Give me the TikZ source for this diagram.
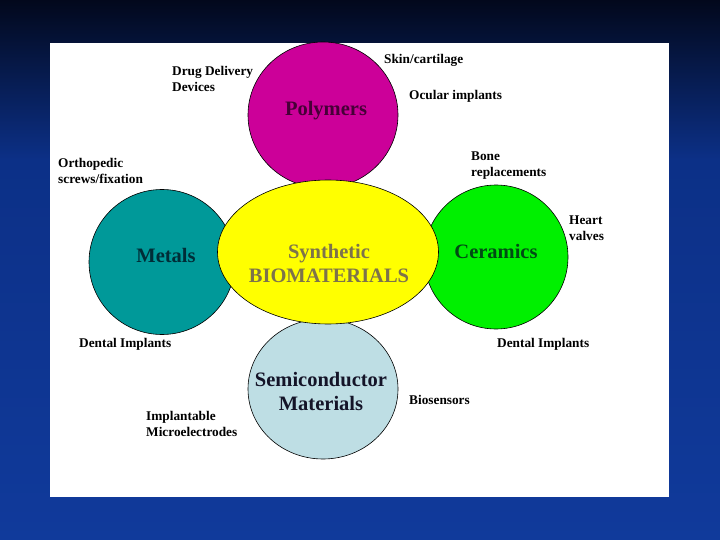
\documentclass[tikz,border=0pt]{standalone}
\usepackage{fontspec}
\setmainfont{Liberation Serif}
\usetikzlibrary{shapes.geometric}
\definecolor{bgtop}{RGB}{2,8,28}
\definecolor{bgmid}{RGB}{12,48,135}
\definecolor{bgbot}{RGB}{16,58,155}
\definecolor{polyfill}{RGB}{204,0,153}
\definecolor{metalfill}{RGB}{0,153,153}
\definecolor{ceramfill}{RGB}{0,240,0}
\definecolor{semifill}{RGB}{190,222,228}
\definecolor{bioyellow}{RGB}{255,255,0}
\definecolor{polytext}{RGB}{70,0,55}
\definecolor{metaltext}{RGB}{0,45,55}
\definecolor{ceramtext}{RGB}{0,75,20}
\definecolor{semitext}{RGB}{20,20,40}
\definecolor{biotext}{RGB}{125,115,75}
\begin{document}
\begin{tikzpicture}[x=1pt,y=-1pt,
  blob/.style={ellipse, draw=black, line width=0.6pt, inner sep=0pt},
  big/.style={font=\bfseries\fontsize{20.5}{25}\selectfont, align=center, inner sep=0pt},
  lab/.style={anchor=west, font=\bfseries\fontsize{13.3}{16}\selectfont, align=left, inner sep=0pt}]
\useasboundingbox (0,0) rectangle (720,540);
\shade[top color=bgtop, bottom color=bgmid] (0,0) rectangle (720,160);
\shade[top color=bgmid, bottom color=bgbot] (0,160) rectangle (720,540);
\fill[white] (50,43) rectangle (669,497);
% circles
\node[blob, fill=polyfill, minimum width=150pt, minimum height=146pt] (poly) at (323,115) {};
\node[blob, fill=metalfill, minimum width=146pt, minimum height=145pt] (metal) at (162,262) {};
\node[blob, fill=ceramfill, minimum width=144pt, minimum height=144pt] (ceram) at (496,257) {};
\node[blob, fill=semifill, minimum width=150pt, minimum height=140pt] (semi) at (323,389) {};
\node[blob, fill=bioyellow, minimum width=221pt, minimum height=144pt] (bio) at (328,252) {};
% main texts
\node[big, text=polytext] (polyt) at (326,111) {Polymers};
\node[big, text=metaltext] (metalt) at (166,255) {Metals};
\node[big, text=ceramtext] (ceramt) at (496,251) {Ceramics};
\node[big, text=semitext, font=\bfseries\fontsize{20.5}{24}\selectfont] (semit) at (321,391) {Semiconductor\\Materials};
\node[big, text=biotext, font=\bfseries\fontsize{20.5}{24}\selectfont] (biot) at (329,263) {Synthetic\\BIOMATERIALS};
% labels
\node[lab] (drug) at (172,78.5) {Drug Delivery\\Devices};
\node[lab] (skin) at (384,60) {Skin/cartilage};
\node[lab] (ocular) at (409,96) {Ocular implants};
\node[lab] (ortho) at (58,171) {Orthopedic\\screws/fixation};
\node[lab] (bone) at (471,166) {Bone\\replacements};
\node[lab] (heart) at (569,228) {Heart\\valves};
\node[lab] (dentl) at (79,344) {Dental Implants};
\node[lab] (dentr) at (497,344) {Dental Implants};
\node[lab] (biosens) at (409,400) {Biosensors};
\node[lab] (implant) at (146,423.5) {Implantable\\Microelectrodes};
\end{tikzpicture}
\end{document}
